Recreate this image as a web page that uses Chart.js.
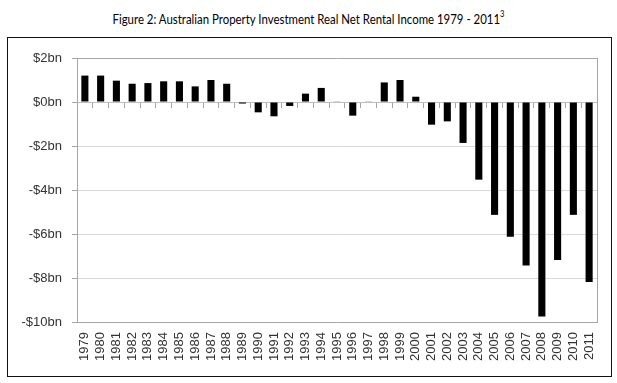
<!DOCTYPE html>
<html>
<head>
<meta charset="utf-8">
<script src="https://cdn.jsdelivr.net/npm/chart.js@4/dist/chart.umd.min.js"></script>
<style>
  html, body { margin: 0; padding: 0; background: #fff; }
  #wrap { position: relative; width: 617px; height: 383px; overflow: hidden; }
  #title { position: absolute; left: 0; top: 9px; width: 617px; text-align: center; transform-origin: 50% 0;
           font-family: Lato, "Liberation Sans", sans-serif; font-size: 13.5px; color: #000; white-space: nowrap; }
  #title sup { font-size: 9px; position: relative; top: -1px; }
  #frame { position: absolute; left: 7px; top: 37px; width: 603px; height: 338px; border: 1.5px solid #111; }
  canvas { position: absolute; left: 0; top: 0; }
</style>
</head>
<body>
<div id="wrap">
  <div id="title"><span id="tt">Figure 2: Australian Property Investment Real Net Rental Income 1979 - 2011<sup>3</sup></span></div>
  <div id="frame"></div>
  <canvas id="c" width="617" height="383"></canvas>
</div>
<script>
// Data (billions of AUD)
const years = ['1979','1980','1981','1982','1983','1984','1985','1986','1987','1988','1989',
  '1990','1991','1992','1993','1994','1995','1996','1997','1998','1999','2000',
  '2001','2002','2003','2004','2005','2006','2007','2008','2009','2010','2011'];
const netRentalIncome = [1.2, 1.2, 0.97, 0.83, 0.86, 0.94, 0.94, 0.71, 1.0, 0.83, -0.07,
  -0.47, -0.65, -0.18, 0.38, 0.64, 0.03, -0.62, 0.03, 0.89, 1.0, 0.24,
  -1.03, -0.88, -1.86, -3.53, -5.13, -6.12, -7.43, -9.75, -7.18, -5.13, -8.18];
const yTicks = [2, 0, -2, -4, -6, -8, -10];

const fmt = v => (v < 0 ? '-' : '') + '$' + Math.abs(v) + 'bn';

// narrow the title to the reference's width (Calibri-like narrow face), keeping it centred
(function () {
  const w = document.getElementById('tt').getBoundingClientRect().width;
  const target = 392;
  document.getElementById('title').style.transform = 'scaleX(' + (target / w) + ')';
})();

const frameRight = {
  id: 'frameRight',
  afterDraw(chart) {
    const {ctx, chartArea} = chart;
    ctx.save();
    ctx.strokeStyle = '#a6a6a6';
    ctx.lineWidth = 1;
    ctx.beginPath();
    ctx.moveTo(Math.round(chartArea.right) + 0.5, chartArea.top);
    ctx.lineTo(Math.round(chartArea.right) + 0.5, chartArea.bottom);
    ctx.stroke();
    ctx.restore();
  }
};

new Chart(document.getElementById('c'), {
  type: 'bar',
  data: {
    labels: years,
    datasets: [{
      label: 'Real Net Rental Income',
      data: netRentalIncome,
      backgroundColor: '#000',
      borderWidth: 0,
      barPercentage: 0.9,
      categoryPercentage: 0.5,
      xAxisID: 'x'
    }]
  },
  options: {
    responsive: false,
    animation: false,
    layout: { padding: { top: 58, right: 20, left: 0, bottom: 0 } },
    plugins: { legend: { display: false }, tooltip: { enabled: false } },
    scales: {
      x: {
        type: 'category',
        position: 'bottom',
        offset: true,
        grid: { display: true, drawOnChartArea: false, drawTicks: false, offset: true },
        border: { display: true, color: '#a6a6a6', width: 1 },
        ticks: {
          minRotation: 90, maxRotation: 90, autoSkip: false, padding: 10,
          color: '#333', font: { family: 'Liberation Sans', size: 13 }
        },
        afterFit: s => { s.height = 61; }
      },
      x0: {
        type: 'category',
        labels: years,
        position: { y: 0 },
        offset: true,
        grid: { display: true, drawOnChartArea: false, drawTicks: true, tickLength: 5, offset: true, color: '#a6a6a6' },
        border: { display: true, color: '#bfbfbf', width: 1 },
        ticks: { display: false }
      },
      y: {
        min: -10, max: 2,
        afterBuildTicks: s => { s.ticks = yTicks.map(v => ({ value: v })); },
        grid: {
          color: c => (c.tick && c.tick.value === 2) ? '#a6a6a6' : '#d9d9d9',
          tickColor: '#a6a6a6', tickLength: 5, drawTicks: true
        },
        border: { display: true, color: '#a6a6a6', width: 1 },
        ticks: {
          padding: 10, color: '#333', font: { family: 'Liberation Sans', size: 13 },
          callback: v => fmt(v)
        },
        afterFit: s => { s.width = 77; }
      }
    }
  },
  plugins: [frameRight]
});
</script>
</body>
</html>
